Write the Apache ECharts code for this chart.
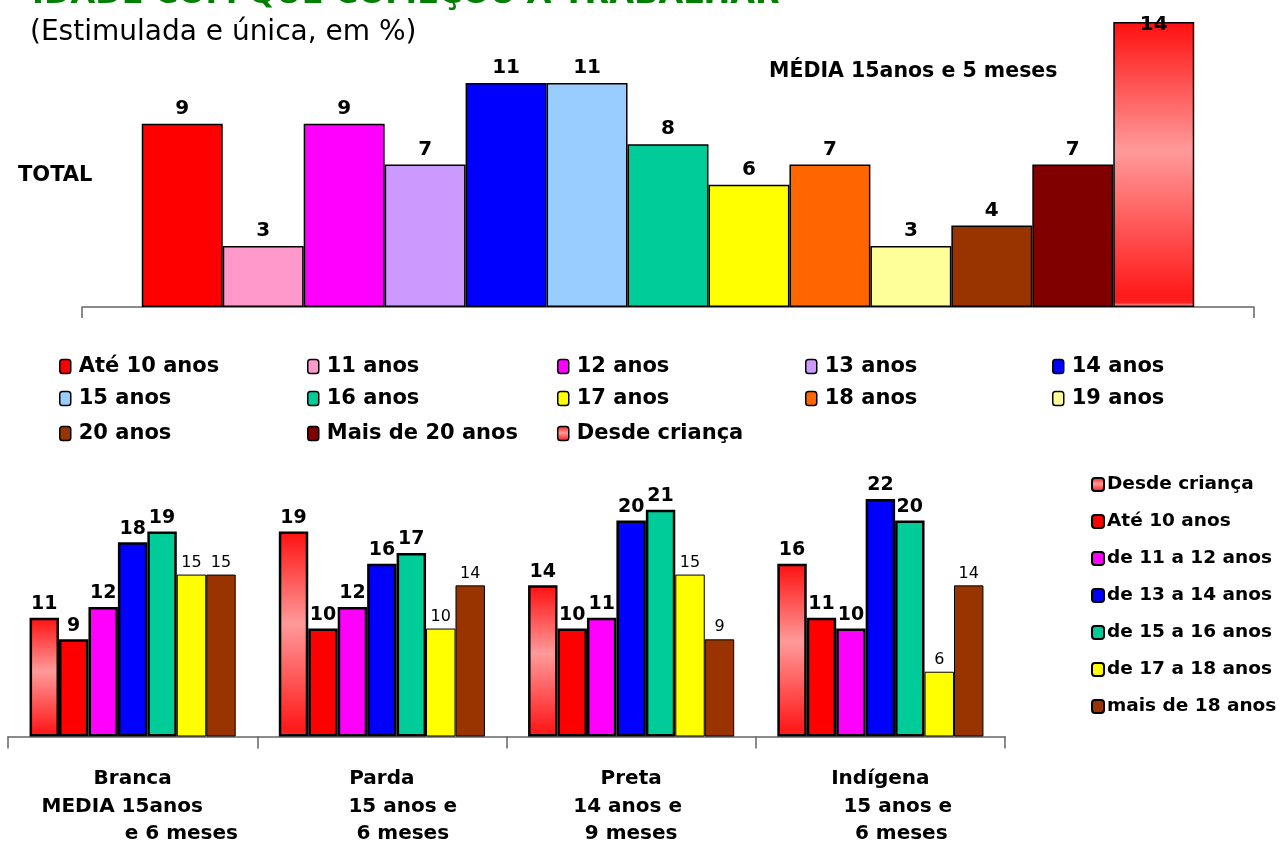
<!DOCTYPE html>
<html><head><meta charset="utf-8">
<script src="https://cdn.jsdelivr.net/npm/echarts@6/dist/echarts.min.js"></script>
<style>html,body{margin:0;padding:0;background:#fff}#c{width:1283px;height:848px}</style>
</head><body><div id="c"></div>
<script>
// ---------- DATA ----------
const titleText = 'IDADE COM QUE COMEÇOU A TRABALHAR';
const subtitleText = '(Estimulada e única, em %)';
const totalLabel = 'TOTAL';
const mediaTotal = 'MÉDIA 15anos e 5 meses';

const topNames = ['Até 10 anos','11 anos','12 anos','13 anos','14 anos','15 anos','16 anos','17 anos','18 anos','19 anos','20 anos','Mais de 20 anos','Desde criança'];
const topValues = [9,3,9,7,11,11,8,6,7,3,4,7,14];

const groups = ['Branca','Parda','Preta','Indígena'];
const groupSub1 = ['MEDIA 15anos','15 anos e','14 anos e','15 anos e'];
const groupSub2 = ['e 6 meses','6 meses','9 meses','6 meses'];

const bottomNames = ['Desde criança','Até 10 anos','de 11 a 12 anos','de 13 a 14 anos','de 15 a 16 anos','de 17 a 18 anos','mais de 18 anos'];
const desdeCrianca = [11,19,14,16];
const ate10 = [9,10,10,11];
const de11a12 = [12,12,11,10];
const de13a14 = [18,16,20,22];
const de15a16 = [19,17,21,20];
const de17a18 = [15,10,15,6];
const mais18 = [15,14,9,14];

// ---------- STYLE ----------
const F = 'DejaVu Sans';
const gradRed = () => new echarts.graphic.LinearGradient(0,0,0,1,[
  {offset:0,color:'#ff1010'},{offset:0.45,color:'#ff9a9a'},
  {offset:0.96,color:'#ff1a1a'},{offset:0.985,color:'#ff2020'},{offset:1,color:'#ffe0e0'}]);
const topColors = ['#ff0000','#ff99cc','#ff00ff','#cc99ff','#0000ff','#99ccff','#00cc99','#ffff00','#ff6600','#ffff99','#993300','#800000', null];
const bottomData = [desdeCrianca, ate10, de11a12, de13a14, de15a16, de17a18, mais18];
const bottomColors = [null,'#ff0000','#ff00ff','#0000ff','#00cc99','#ffff00','#993300'];
const thinLabel = [false,false,false,false,false,true,true];

// horizontal shifts of the 2nd/3rd category label lines (in spaces; negative = trailing)
const subShift = [[-3, 14],[6, 6],[-1, 0],[5, 6]];
const pad = (s, lead, trail) => ' '.repeat(lead) + s + ' '.repeat(trail);
function shifted(s, n){ return n >= 0 ? pad(s, n, 0) : pad(s, 0, -n); }

const series = [];
topNames.forEach((n,i)=>{
  series.push({
    name: n, type:'bar', xAxisIndex:0, yAxisIndex:0,
    data:[topValues[i]], barGap:'0%', barCategoryGap:'10.2%',
    itemStyle:{color: topColors[i] || gradRed(), borderColor:'#000', borderWidth:1.5},
    label:{show:true, position:'top', color:'#000', fontFamily:F, fontWeight:'bold', fontSize:20,
      offset: i === topNames.length-1 ? [0,18] : [0,0]}
  });
});
bottomNames.forEach((n,i)=>{
  series.push({
    name: n, type:'bar', xAxisIndex:1, yAxisIndex:1,
    data: bottomData[i], barGap:'0%', barCategoryGap:'17.3%',
    itemStyle:{color: bottomColors[i] || gradRed(), borderColor:'#000', borderWidth: thinLabel[i] ? 1 : 2.5},
    label:{show:true, position:'top', color:'#000', fontFamily:F,
      fontWeight: thinLabel[i] ? 'normal' : 'bold', fontSize: thinLabel[i] ? 16 : 19, distance:4}
  });
});

const legCols = [59,307,557,805,1052];
const legRows = [356,388,423];
const legends = topNames.map((n,i)=>({
  data:[n], left: legCols[i%5], top: legRows[Math.floor(i/5)],
  itemWidth:11, itemHeight:14, itemGap:0, padding:0,
  itemStyle:{borderColor:'#000', borderWidth:1.5},
  textStyle:{fontFamily:F, fontWeight:'bold', fontSize:21, color:'#000', padding:[0,0,0,3]},
  selectedMode:false
}));
legends.push({
  data: bottomNames, orient:'vertical', left:1091, top:474,
  itemWidth:12, itemHeight:13, itemGap:16, padding:0,
  itemStyle:{borderColor:'#000', borderWidth:2},
  textStyle:{fontFamily:F, fontWeight:'bold', fontSize:18.5, lineHeight:21, color:'#000', padding:[0,0,0,-2]},
  selectedMode:false
});

const chart = echarts.init(document.getElementById('c'), null, {renderer:'canvas'});
chart.setOption({
  animation:false,
  backgroundColor:'#fff',
  grid:[
    {left:82, right:29, top:22, bottom:541},
    {left:8, right:278, top:499, bottom:110}
  ],
  xAxis:[
    {type:'category', gridIndex:0, data:[''], axisLabel:{show:false},
     axisLine:{show:true, lineStyle:{color:'#666', width:1.5}},
     axisTick:{show:true, interval:0, length:11, lineStyle:{color:'#666', width:1.5}}},
    {type:'category', gridIndex:1, data:groups,
     axisLine:{show:true, lineStyle:{color:'#666', width:1.5}},
     axisTick:{show:true, interval:0, length:12, lineStyle:{color:'#666', width:1.5}},
     axisLabel:{interval:0, margin:29, color:'#000', fontFamily:F, fontWeight:'bold', fontSize:20, lineHeight:27.5,
       formatter:(v,idx)=>[v, shifted(groupSub1[idx], subShift[idx][0]), shifted(groupSub2[idx], subShift[idx][1])].join('\n')}}
  ],
  yAxis:[
    {type:'value', gridIndex:0, min:0, max:14, show:false},
    {type:'value', gridIndex:1, min:0, max:22, show:false}
  ],
  legend: legends,
  series: series,
  graphic:[
    {type:'text', left:32, top:-21, style:{text:titleText, font:'bold 32px "DejaVu Sans"', fill:'#008000'}},
    {type:'text', left:30, top:19, style:{text:subtitleText, font:'28px "DejaVu Sans"', fill:'#000'}},
    {type:'text', left:18, top:165, style:{text:totalLabel, font:'bold 21px "DejaVu Sans"', fill:'#000'}},
    {type:'text', left:769, top:61, style:{text:mediaTotal, font:'bold 20.5px "DejaVu Sans"', fill:'#000'}}
  ]
});
</script></body></html>
